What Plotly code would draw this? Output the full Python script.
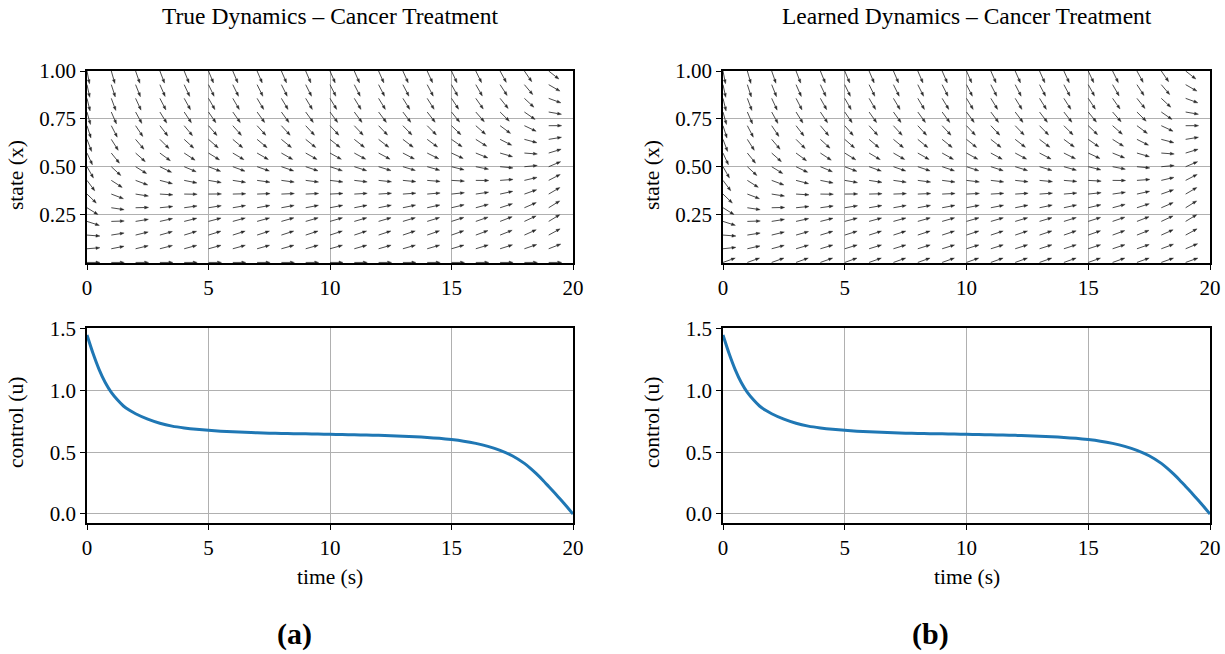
import numpy as np
import plotly.graph_objects as go

# ---------------- data ----------------
time_s = [0, 0.25, 0.5, 0.75, 1, 1.25, 1.5, 1.75, 2, 2.5, 3, 3.5, 4, 4.5, 5,
          5.5, 6, 6.5, 7, 7.5, 8, 8.5, 9, 9.5, 10, 10.5, 11, 11.5, 12, 12.5,
          13, 13.5, 14, 14.5, 15, 15.5, 16, 16.5, 17, 17.5, 18, 18.25, 18.5,
          18.75, 19, 19.25, 19.5, 19.75, 20]
control_u = [1.45, 1.30, 1.17, 1.065, 0.985, 0.925, 0.875, 0.840, 0.812, 0.768,
             0.735, 0.712, 0.697, 0.686, 0.678, 0.671, 0.666, 0.662, 0.658,
             0.655, 0.653, 0.651, 0.650, 0.648, 0.646, 0.644, 0.642, 0.640,
             0.637, 0.634, 0.630, 0.626, 0.620, 0.613, 0.603, 0.590, 0.572,
             0.548, 0.516, 0.472, 0.410, 0.370, 0.325, 0.276, 0.223, 0.170,
             0.115, 0.058, 0.0]

# quiver grid (time columns, state rows)
field_times = list(range(0, 20))
state_rows = [0.0, 0.0714, 0.1429, 0.2143, 0.2857, 0.3571, 0.4286, 0.5,
              0.5714, 0.6429, 0.7143, 0.7857, 0.8571, 0.9286, 1.0]

# cancer-treatment dynamics  x' = r x ln(1/x) - delta u x
growth_rate = 0.3
drug_effect = 0.45
# learned model deviation per state row (visible only near x = 0)
learned_offset = [0.045, 0.004, 0, 0, 0, 0, 0, 0, 0, 0, 0, 0, 0, 0, 0]

x_ticks = [0, 5, 10, 15, 20]
x_ticktext = ["0", "5", "10", "15", "20"]
state_ticks = [0.25, 0.5, 0.75, 1.0]
state_ticktext = ["0.25", "0.50", "0.75", "1.00"]
ctrl_ticks = [0.0, 0.5, 1.0, 1.5]
ctrl_ticktext = ["0.0", "0.5", "1.0", "1.5"]

titles = ["True Dynamics \u2013 Cancer Treatment",
          "Learned Dynamics \u2013 Cancer Treatment"]
panel_tags = ["<b>(a)</b>", "<b>(b)</b>"]

# ---------------- layout geometry (pixels) ----------------
W, H = 1225, 654
cols_px = [(87, 573), (723, 1210)]
top_px = (71, 263)      # top, bottom pixel rows of quiver axes
bot_px = (328, 523)     # control axes
state_range = [-0.003, 1.0]
ctrl_range = [-0.073, 1.507]
FONT = "Liberation Serif"
ARROW_COL = "#2a2a2a"


def dom_x(a, b):
    return [a / W, b / W]


def dom_y(top, bottom):
    return [1 - bottom / H, 1 - top / H]


u_at = dict(zip(time_s, control_u))


def field(t, x, offset):
    u = u_at[t]
    g = growth_rate * x * np.log(1.0 / x) if x > 0 else 0.0
    return g - drug_effect * u * x + offset


fig = go.Figure()

for p in range(2):
    xa = "x" if p == 0 else "x2"
    ya = "y" if p == 0 else "y2"
    x0p, x1p = cols_px[p]
    sx = (x1p - x0p) / 20.0
    sy = (top_px[1] - top_px[0]) / (state_range[1] - state_range[0])
    L, hl, hw = 13.0, 4.0, 1.4
    shaft_x, shaft_y, head_x, head_y = [], [], [], []
    for t in field_times:
        for j, x in enumerate(state_rows):
            off = learned_offset[j] if p == 1 else 0.0
            f = field(t, x, off)
            vx, vy = sx * 1.0, sy * f
            n = np.hypot(vx, vy)
            cx, cy = vx / n, vy / n
            tipx, tipy = t + L * cx / sx, x + L * cy / sy
            bx, by = t + (L - hl) * cx / sx, x + (L - hl) * cy / sy
            px_, py_ = -cy, cx
            shaft_x += [t, bx, None]
            shaft_y += [x, by, None]
            head_x += [tipx, bx + hw * px_ / sx, bx - hw * px_ / sx, tipx, None]
            head_y += [tipy, by + hw * py_ / sy, by - hw * py_ / sy, tipy, None]
    fig.add_trace(go.Scatter(x=shaft_x, y=shaft_y, mode="lines", xaxis=xa, yaxis=ya,
                             line=dict(color=ARROW_COL, width=0.85), hoverinfo="skip",
                             showlegend=False))
    fig.add_trace(go.Scatter(x=head_x, y=head_y, mode="lines", fill="toself",
                             fillcolor=ARROW_COL, xaxis=xa, yaxis=ya,
                             line=dict(color=ARROW_COL, width=0.4), hoverinfo="skip",
                             showlegend=False))
    # control curve
    fig.add_trace(go.Scatter(x=time_s, y=control_u, mode="lines",
                             xaxis="x3" if p == 0 else "x4",
                             yaxis="y3" if p == 0 else "y4",
                             line=dict(color="#1f77b4", width=3, shape="spline", smoothing=0.6),
                             showlegend=False))

axis_common = dict(showline=True, mirror=True, linecolor="black", linewidth=1.5,
                   ticks="outside", ticklen=5, tickwidth=1.2, tickcolor="black",
                   showgrid=True, gridcolor="#b0b0b0", gridwidth=1.3, zeroline=False,
                   automargin=False,
                   tickfont=dict(family=FONT, size=21, color="black"))

layout = dict(width=W, height=H,
              margin=dict(l=0, r=0, t=0, b=0, pad=0, autoexpand=False),
              plot_bgcolor="white", paper_bgcolor="white", showlegend=False)

names = [("xaxis", "yaxis", 0, top_px), ("xaxis2", "yaxis2", 1, top_px),
         ("xaxis3", "yaxis3", 0, bot_px), ("xaxis4", "yaxis4", 1, bot_px)]
for i, (xn, yn, col, rowpx) in enumerate(names):
    anchor_y = "y" + (str(i + 1) if i > 0 else "")
    anchor_x = "x" + (str(i + 1) if i > 0 else "")
    layout[xn] = dict(axis_common, domain=dom_x(*cols_px[col]), range=[0, 20],
                      tickvals=x_ticks, ticktext=x_ticktext, anchor=anchor_y)
    if rowpx == top_px:
        layout[yn] = dict(axis_common, domain=dom_y(*rowpx), range=state_range,
                          tickvals=state_ticks, ticktext=state_ticktext, anchor=anchor_x)
    else:
        layout[yn] = dict(axis_common, domain=dom_y(*rowpx), range=ctrl_range,
                          tickvals=ctrl_ticks, ticktext=ctrl_ticktext, anchor=anchor_x)

fig.update_layout(**layout)


def ann(text, px, py, size, angle=0):
    fig.add_annotation(text=text, x=px / W, y=1 - py / H, xref="paper", yref="paper",
                       xanchor="center", yanchor="middle", showarrow=False,
                       textangle=angle, font=dict(family=FONT, size=size, color="black"))


for p in range(2):
    x0p, x1p = cols_px[p]
    cx = (x0p + x1p) / 2
    ann(titles[p], cx, 16, 23.5)
    ann("state (x)", x0p - 71, 175, 21.5, -90)
    ann("control (u)", x0p - 71, 423, 21.5, -90)
    ann("time (s)", cx, 577, 21.5)
    ann(panel_tags[p], [294, 930][p], 634, 30)

fig.write_html("out.html")
